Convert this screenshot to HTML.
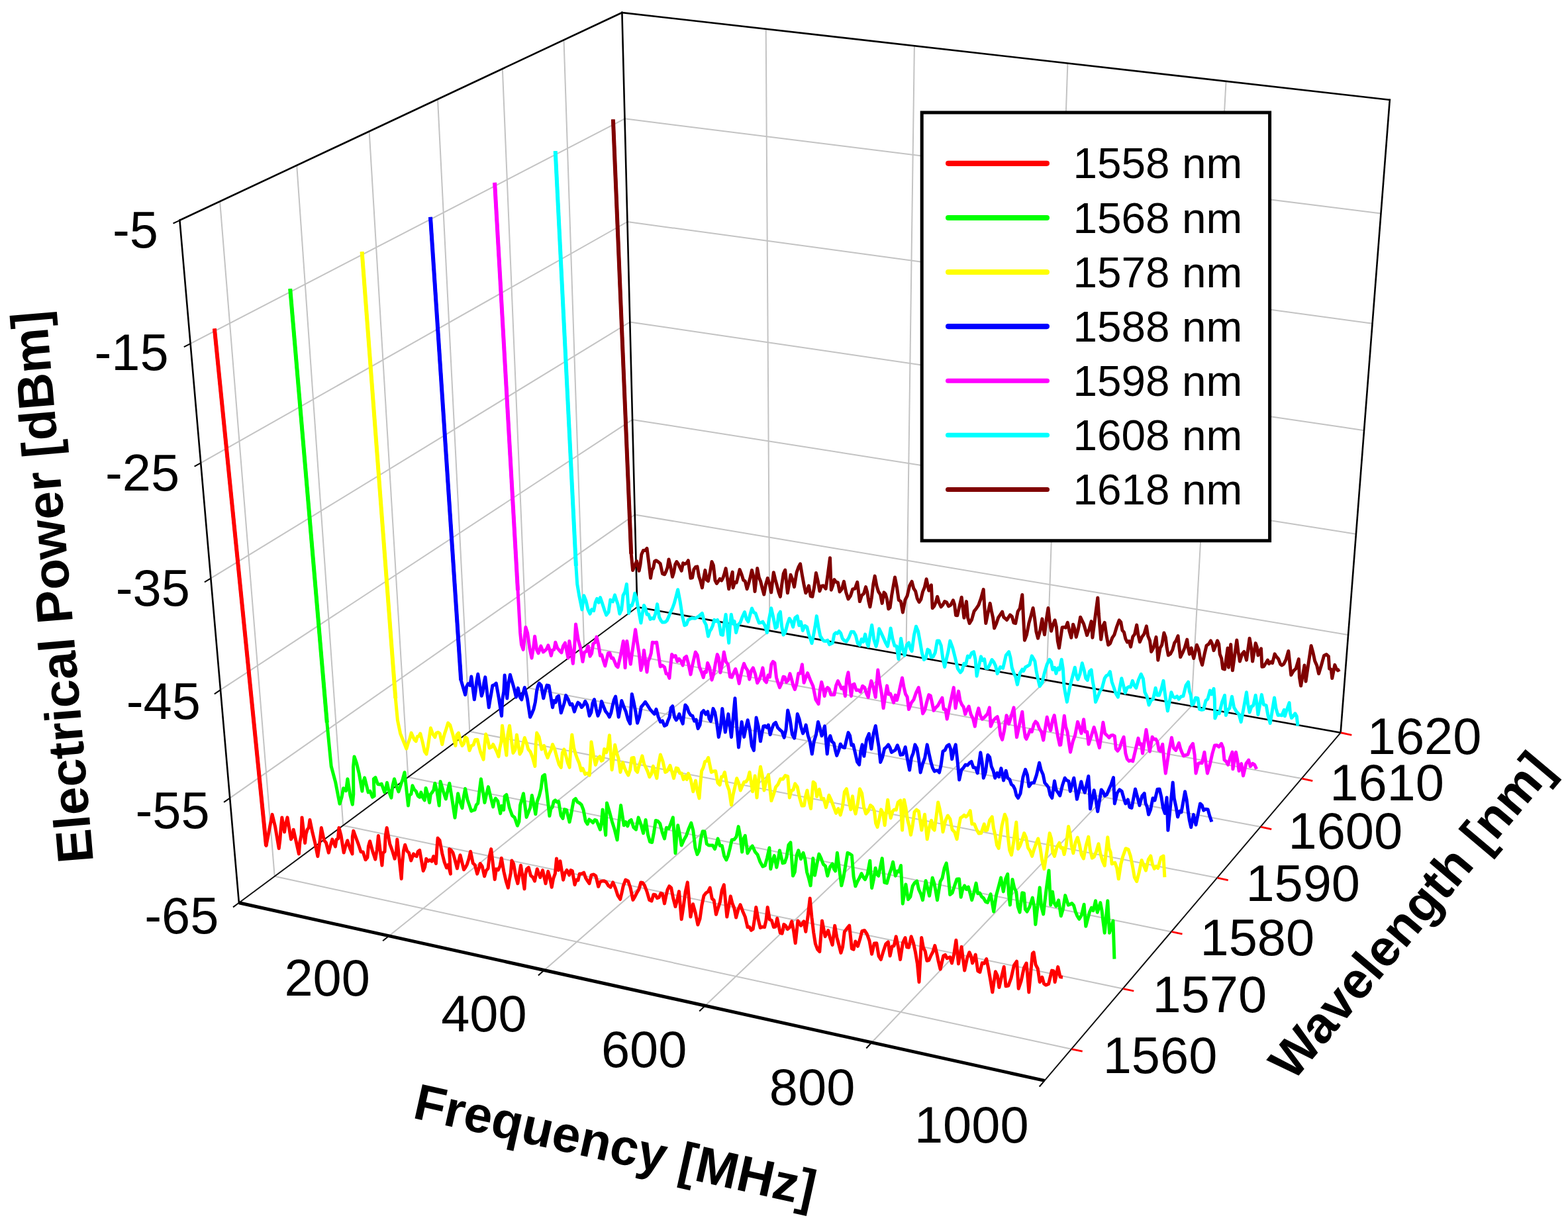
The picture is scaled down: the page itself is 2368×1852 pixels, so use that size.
<!DOCTYPE html>
<html lang="en"><head><meta charset="utf-8"><title>Electrical power spectra vs wavelength</title>
<style>
html,body{margin:0;padding:0;background:#fff}
body{width:2368px;height:1852px;overflow:hidden}
svg{display:block}
.g{stroke:#c3c3c3;stroke-width:2;fill:none}
.e{stroke:#000;stroke-width:2.6;fill:none;stroke-linecap:square}
.e2{stroke:#111;stroke-width:2;fill:none}
.ef{stroke:#000;stroke-width:5;fill:none;stroke-linecap:butt}
.tk{stroke:#000;stroke-width:2}
.tr{stroke:#ff0000;stroke-width:2.8}
.t{fill:none;stroke-width:5;stroke-linejoin:round;stroke-linecap:butt}
text{font-family:"Liberation Sans",sans-serif;fill:#000}
.tl{font-size:77.6px}
.lt{font-size:65.7px}
.al{font-size:76.8px;font-weight:bold}
</style></head><body>
<svg width="2368" height="1852" viewBox="0 0 2368 1852">
<rect width="2368" height="1852" fill="#fff"/>
<g id="grid">
<line class="g" x1="414.7" y1="1323.8" x2="332.1" y2="304.3"/>
<line class="g" x1="414.7" y1="1323.8" x2="1618.1" y2="1584.7"/>
<line class="g" x1="518.2" y1="1246.9" x2="448.2" y2="249.8"/>
<line class="g" x1="518.2" y1="1246.9" x2="1695.7" y2="1493.5"/>
<line class="g" x1="616.3" y1="1174.1" x2="557.6" y2="198.4"/>
<line class="g" x1="616.3" y1="1174.1" x2="1768.9" y2="1407.4"/>
<line class="g" x1="709.3" y1="1104.9" x2="661" y2="149.8"/>
<line class="g" x1="709.3" y1="1104.9" x2="1838.1" y2="1326.1"/>
<line class="g" x1="797.8" y1="1039.2" x2="758.8" y2="103.9"/>
<line class="g" x1="797.8" y1="1039.2" x2="1903.6" y2="1249.1"/>
<line class="g" x1="882.1" y1="976.6" x2="851.5" y2="60.4"/>
<line class="g" x1="882.1" y1="976.6" x2="1965.7" y2="1176.1"/>
<line class="g" x1="1162.4" y1="952.8" x2="1156.7" y2="43.8"/>
<line class="g" x1="587.5" y1="1413.8" x2="1162.4" y2="952.8"/>
<line class="g" x1="1368.4" y1="989.6" x2="1380.9" y2="69.3"/>
<line class="g" x1="822" y1="1465.6" x2="1368.4" y2="989.6"/>
<line class="g" x1="1580.6" y1="1027.5" x2="1612.4" y2="95.6"/>
<line class="g" x1="1064.9" y1="1519.2" x2="1580.6" y2="1027.5"/>
<line class="g" x1="1799.3" y1="1066.6" x2="1851.6" y2="122.8"/>
<line class="g" x1="1316.5" y1="1574.8" x2="1799.3" y2="1066.6"/>
<line class="g" x1="347.1" y1="1205.6" x2="958.8" y2="777.4"/>
<line class="g" x1="958.8" y1="777.4" x2="2036.1" y2="959"/>
<line class="g" x1="333" y1="1042.2" x2="955.1" y2="633.9"/>
<line class="g" x1="955.1" y1="633.9" x2="2047.9" y2="806.8"/>
<line class="g" x1="318.3" y1="873.6" x2="951.3" y2="486.5"/>
<line class="g" x1="951.3" y1="486.5" x2="2060.1" y2="650.2"/>
<line class="g" x1="303.2" y1="699.3" x2="947.5" y2="335"/>
<line class="g" x1="947.5" y1="335" x2="2072.6" y2="488.8"/>
<line class="g" x1="287.6" y1="519.1" x2="943.5" y2="179.3"/>
<line class="g" x1="943.5" y1="179.3" x2="2085.5" y2="322.4"/>
</g>
<g id="edges">
<line class="e" x1="271.4" y1="332.8" x2="939.4" y2="19.1"/>
<line class="e" x1="939.4" y1="19.1" x2="2098.8" y2="150.9"/>
<line class="e" x1="271.4" y1="332.8" x2="360.9" y2="1363.8"/>
<line class="e" x1="939.4" y1="19.1" x2="962.3" y2="917"/>
<line class="e" x1="2098.8" y1="150.9" x2="2024.6" y2="1106.8"/>
<line class="e2" x1="360.9" y1="1363.8" x2="962.3" y2="917"/>
<line class="e" x1="962.3" y1="917" x2="2024.6" y2="1106.8"/>
<line class="e2" x1="1577.5" y1="1632.4" x2="2024.6" y2="1106.8"/>
<line class="ef" x1="360.9" y1="1363.8" x2="1577.5" y2="1632.4"/>
</g>
<g id="ticks">
<line class="tk" x1="360.9" y1="1363.8" x2="352" y2="1370.4"/>
<line class="tk" x1="347.1" y1="1205.6" x2="338.1" y2="1211.9"/>
<line class="tk" x1="333" y1="1042.2" x2="323.8" y2="1048.3"/>
<line class="tk" x1="318.3" y1="873.6" x2="308.9" y2="879.3"/>
<line class="tk" x1="303.2" y1="699.3" x2="293.6" y2="704.7"/>
<line class="tk" x1="287.6" y1="519.1" x2="277.8" y2="524.2"/>
<line class="tk" x1="271.4" y1="332.8" x2="261.5" y2="337.5"/>
<line class="tk" x1="587.5" y1="1413.8" x2="578.1" y2="1421.3"/>
<line class="tk" x1="822" y1="1465.6" x2="812.9" y2="1473.5"/>
<line class="tk" x1="1064.9" y1="1519.2" x2="1056.2" y2="1527.5"/>
<line class="tk" x1="1316.5" y1="1574.8" x2="1308.3" y2="1583.5"/>
<line class="tk" x1="1577.5" y1="1632.4" x2="1569.7" y2="1641.5"/>
<line class="tr" x1="1618.6" y1="1584.8" x2="1634.7" y2="1588.2"/>
<line class="tr" x1="1696.2" y1="1493.6" x2="1712.3" y2="1497"/>
<line class="tr" x1="1769.4" y1="1407.5" x2="1785.5" y2="1410.9"/>
<line class="tr" x1="1838.6" y1="1326.2" x2="1854.7" y2="1329.6"/>
<line class="tr" x1="1904.1" y1="1249.2" x2="1920.2" y2="1252.6"/>
<line class="tr" x1="1966.2" y1="1176.2" x2="1982.3" y2="1179.6"/>
<line class="tr" x1="2025.1" y1="1106.9" x2="2041.3" y2="1110.3"/>
</g>
<g id="traces">
<polyline class="t" stroke="#ff0000" points="323.9,496.4 402,1277.6 411.1,1230.4 415.6,1248.6 421.2,1281.6 422.9,1268.2 424.2,1250.4 425.8,1234.9 429.5,1256.9 431.6,1244.1 434,1234.9 439.5,1267.9 441.6,1264.1 443.2,1253.3 447.3,1271.6 451.4,1289.9 452.9,1271.7 455.1,1261.1 456,1234.9 460.6,1273.4 462.1,1260.2 464,1253.4 466.3,1250.1 467.9,1238.6 471.9,1257.7 475.7,1273.1 479.8,1293.6 481.7,1280.4 483.6,1266 485.3,1250.5 489.5,1269.5 492.5,1273.1 496.3,1288.1 499,1277.4 501.8,1267.9 506.4,1278.9 508.1,1268.2 510.5,1266.8 511.9,1250.5 515,1262 519.2,1288.1 521.9,1278.2 524.7,1269.7 528.5,1281.5 532,1289.9 532.3,1263.8 533.8,1255.1 537.5,1265.4 541.2,1275.2 545,1286.7 548.2,1287.1 552,1298.8 554.9,1295.4 556.4,1278.4 558.6,1270.7 562.8,1286.3 566.8,1298.1 569.3,1283.6 571.4,1262.4 576.9,1307.3 578.4,1288.4 581,1286.4 582.2,1262.4 584.2,1250.5 588.7,1274.9 592.3,1284.6 596.1,1297.2 598.3,1288 599.8,1267.9 606.2,1327.4 607.6,1303.9 609.4,1285.4 611.7,1276.2 614.8,1285.6 617.6,1288.3 620.8,1300 624.5,1289.9 626.8,1292.5 629.1,1293.6 631.2,1286.4 633.7,1284.4 639.2,1315.5 641.6,1309.8 643.7,1297.2 646.6,1300.8 649.2,1299 652.2,1301.1 654.7,1293.6 658.4,1304.5 659.7,1283.6 661.1,1266.1 664,1269.4 667.8,1289.3 671.2,1302.7 674.4,1310.9 676.9,1306.4 680.4,1320.1 678.5,1282.6 681.2,1284.2 684,1288.1 687.2,1299.5 690.4,1311.9 692.7,1300.7 695,1291.7 700.5,1313.7 702.8,1310.6 705.1,1306.4 707.9,1297.7 710.6,1286.2 714.3,1304 717.2,1306.6 720.7,1320.1 723,1312.8 725.2,1304.5 728.2,1308.8 731.6,1323.8 734.2,1315.2 737.1,1311.8 739.2,1293.4 741.7,1282.6 747.2,1328.4 749.4,1312.7 752.3,1314.1 755,1308.4 757.3,1296.3 760.9,1316.7 764.2,1331 767.4,1341.2 769.3,1328.8 771.3,1319.1 772.9,1300 775.6,1304.8 779,1324.4 781.9,1334.7 784.2,1320.5 786.5,1307.2 792,1342.9 793.5,1321.3 795.6,1312.7 798.3,1310.5 801.6,1322.8 804.5,1324.9 807.5,1331 811.2,1312.7 815.8,1325.5 819.5,1314.5 824,1334.7 827.7,1316.4 830.3,1325 833.2,1340.2 835.7,1326.8 838.4,1319.6 840.5,1297.1 843.3,1314.5 846,1300.8 850.6,1329.2 853.2,1318.9 856.1,1314.5 859.7,1321.9 861.9,1314.6 864.3,1315.5 868,1336.5 870.4,1329.1 873,1329.7 875.3,1320 878.5,1320 881.7,1318.2 884.6,1326.4 887.3,1330.6 890,1334.7 893,1321.9 896.4,1321 899.8,1323.1 903.7,1339.3 906.3,1332.1 909.2,1331 912.3,1330.8 915.5,1332.5 918.8,1337.9 922,1340.2 925.7,1332.9 929.4,1341.8 933.1,1353 936.7,1358.5 939,1348.7 941.2,1338.4 944.7,1329.1 948.6,1331 952.1,1341.3 955.9,1359.4 958.9,1354.4 961.9,1348.3 964.9,1343.5 967.8,1332.9 970.5,1333.4 973.3,1337.4 976.9,1346.6 980.6,1359.4 984,1361.1 987,1351.2 989.7,1351.7 992.5,1356.7 995.3,1355.6 998,1349.3 1000.6,1350.6 1003.5,1364.9 1005.8,1353.7 1008.1,1343.8 1010.8,1338.6 1013.6,1341.1 1016.8,1357.4 1020,1369.5 1022.8,1359.4 1025.5,1346.6 1029.2,1388.7 1032.2,1368.8 1035.2,1346.7 1038.3,1332.9 1042.9,1385.1 1046.6,1365.8 1050.2,1378.8 1053.9,1397 1057,1388 1060,1366.9 1063,1353 1066.1,1348.9 1069.2,1347.1 1072.2,1341.1 1075.3,1357.5 1078.2,1359.9 1081.4,1381.4 1084.3,1372 1087.3,1362.9 1090.2,1344.8 1093.3,1336.5 1097.8,1385.1 1100.6,1368.9 1103.3,1353.9 1106.1,1365 1108.8,1371.7 1111.6,1386 1114.8,1374.1 1118,1366.7 1121.6,1376.4 1125.3,1384.9 1129,1400.6 1131.7,1400.2 1134.5,1405.3 1137.2,1403.4 1139.5,1388.6 1141.8,1370.4 1145,1388.4 1148.2,1401.5 1151.4,1400.1 1154.6,1400.6 1156.9,1390.5 1159.2,1370.4 1162.3,1389 1165.3,1390.2 1168.4,1400.6 1171.1,1400.1 1173.7,1387.2 1178.3,1409.2 1181.1,1410.2 1183.8,1396.4 1186.5,1398.3 1189.3,1403.7 1192.5,1401 1195.7,1391.8 1198.5,1406 1201.2,1424.8 1204.9,1390.9 1209.5,1398.2 1214,1391.8 1216.8,1407.4 1220,1384.7 1223.2,1357 1225.9,1385.2 1228.7,1408.6 1231.4,1425.7 1234.6,1434 1237.8,1437.6 1241.5,1390.9 1246.1,1414.7 1250.7,1405.5 1253.9,1417.8 1257.1,1427.5 1260.7,1398.2 1263.8,1415.8 1266.8,1427 1269.9,1439.4 1272.6,1430.5 1275.4,1407.4 1279,1402.7 1282.7,1398.2 1286.4,1433 1289.1,1434.2 1291.9,1422 1295.5,1429.3 1298.7,1418.8 1301.9,1406.4 1305.6,1405.5 1309.3,1411 1313,1421.1 1316.6,1441.2 1320.3,1425 1323.9,1424.8 1327.1,1444.4 1330.3,1449.5 1334,1437.1 1337.7,1426.2 1341.3,1422.9 1344.1,1444 1347.2,1429.7 1350.1,1428.8 1353.2,1414.7 1356.5,1430.2 1359.6,1449.5 1363.4,1424.3 1367,1416.5 1369.6,1430.8 1372.5,1431.2 1376.1,1414.7 1379.4,1424.4 1382.5,1438.5 1385.4,1455.8 1388,1483.4 1391.7,1416.5 1394.4,1431.4 1397.2,1437 1399.9,1451.3 1402.8,1450.6 1405.8,1443.7 1408.8,1438 1411.8,1428.4 1414.6,1439.5 1417.3,1452.7 1420.1,1464.1 1424.7,1444 1427.5,1442.4 1430.1,1447.7 1434.7,1445.8 1437.5,1455 1440.6,1442 1443.9,1420.2 1447.5,1455.9 1452.1,1430.3 1454.4,1448.8 1456.7,1466 1460.5,1447.7 1464,1438.5 1466.4,1444.1 1468.6,1455 1473.2,1442.2 1476.8,1466.9 1479.9,1468.5 1483.3,1454.6 1486.4,1455.4 1489.7,1448.6 1492.8,1463.6 1495.8,1480.8 1498.8,1498.9 1503.4,1467.8 1506.3,1474 1508.9,1491.6 1512.6,1475.5 1516.2,1460.5 1519,1489.8 1522.8,1489.1 1527,1477.5 1531.4,1458.2 1535.5,1452.2 1538.2,1493.4 1542.1,1481.9 1546.3,1462.5 1550.1,1455 1552,1475.7 1553.8,1498.9 1559.3,1440.3 1561.1,1438.6 1564,1457.2 1567.3,1463.5 1570.2,1483.5 1573.9,1476.2 1576.5,1485.9 1579.4,1488.1 1583.6,1486.4 1588.5,1466.1 1591.1,1466.6 1593.1,1483.5 1597.7,1460.6 1601.1,1475.8 1605,1476.2"/>
<polyline class="t" stroke="#ff0000" style="stroke-width:6px" points="323.9,496.4 402,1277.6"/>
<polyline class="t" stroke="#00ff00" points="438.2,436.3 493.8,1091.6 500.2,1157.5 506.6,1181.3 513,1214.3 516,1204.5 518.6,1190.8 522.5,1194.6 524.9,1176.7 529,1202 532.3,1215.2 533.8,1199.7 533.5,1158.5 535,1142.9 538.5,1152.8 542.4,1169.2 546.9,1195.1 548.5,1181.5 550.6,1174.9 556.1,1196.9 558.9,1195.1 562.4,1204.2 565.2,1202.4 564.3,1176.7 567,1174.5 570.5,1184.5 573.4,1185.1 576.2,1184.1 580.8,1196.9 582.7,1191.2 584.5,1182.2 587.9,1197.1 590.9,1205.1 592.9,1187.2 595.5,1176.7 598.7,1187.4 601.9,1196 603.7,1190.8 605.5,1185 608.3,1176.7 611,1166.7 616.5,1217 618.3,1201.1 620.9,1199.6 622.9,1186.8 625.7,1192.8 628.3,1195.3 631.2,1202.4 633.7,1204.2 635.8,1196.9 638.6,1204.9 641.2,1208.8 643.1,1190.5 645.7,1199.1 648.6,1212.5 650.3,1200.1 652.6,1197.1 654.9,1193.4 656.8,1183.2 659.7,1193.8 663.2,1217 665.1,1180.4 669.2,1194.7 673.3,1207 676,1194.9 678.8,1183.2 682.9,1208.5 687,1235.3 689.3,1217.3 691.6,1198.7 694.9,1212.1 698,1220.7 700.2,1204 702.6,1191.4 705.9,1207.8 708.8,1216.2 711.8,1225.3 714.4,1224.1 717,1223.4 719.3,1216 721.8,1213.4 724.1,1194.5 726.4,1176.7 731.9,1212.5 734.6,1200.2 737.4,1188.6 741.1,1204.5 744.7,1218.9 746.4,1210 748.4,1206 751.7,1210 755.7,1228.9 757.8,1217.4 760.7,1223.4 762.3,1202.6 764.9,1200.5 769.4,1220.5 773.5,1231.8 777.2,1235 781.4,1247.3 783.9,1241.1 785.6,1216.2 788.1,1207.8 790.5,1198.7 795.1,1234.4 798,1227.1 800.9,1219.7 803.3,1201.5 806,1214.2 808.8,1229.9 811.3,1210.7 814.3,1202.4 817,1191.3 819.5,1172.7 822.6,1170.3 826.1,1199.2 829.9,1232.6 831.9,1221.8 834.2,1219.3 836.3,1210.6 838.7,1208.9 841.2,1211.6 843.6,1210.6 847.1,1231.8 850,1236.3 852.5,1222.6 855.5,1223.4 860.1,1241.8 862.3,1231.4 864.4,1219.3 866.5,1208.8 869.3,1206.5 872.3,1211.7 875.1,1213 878.1,1215.6 881.1,1223.5 884.3,1240.3 887.2,1244.9 889.8,1237.9 892.7,1240.1 895.5,1242.8 898.2,1238.5 900.8,1239.3 903.7,1246.7 906.4,1253.2 908.4,1242.3 910.1,1223 914.7,1261.4 916.5,1212.9 920.4,1226.2 924.3,1240.9 928.2,1253.3 932.1,1268.8 934.8,1241.1 937.6,1216.6 942.2,1246.8 944.8,1241.5 947.8,1248 950.4,1240.6 953.2,1238.5 956.9,1250 960.5,1253.2 964.1,1234.9 967.7,1244.6 971.5,1258.7 975.1,1238.5 978.5,1261 981.5,1271.5 984.7,1272.5 987.5,1257.9 990.3,1239.4 993.4,1240.4 996.7,1244.1 1000.2,1257.7 1003.5,1266.9 1006.5,1250.2 1009.9,1251.8 1013.1,1243.7 1016.3,1234.9 1020,1288.9 1021.7,1264.1 1023.7,1246.8 1026.4,1260.5 1029.2,1277 1032.8,1268.9 1036.5,1262.2 1040.1,1251.9 1043.8,1243.1 1046.8,1254.3 1050,1280.8 1053,1290.7 1055.8,1285 1058.3,1267.4 1061.1,1255.8 1064,1255.9 1067.3,1274.7 1070.4,1277 1073.4,1277 1076.4,1277 1079.5,1282.5 1081.8,1275.7 1084.1,1266.9 1087.3,1277.5 1090.4,1277.4 1093.8,1293.4 1096.9,1299 1099.7,1292.2 1102.4,1281.4 1105.2,1268.8 1108.6,1268.3 1112,1264.2 1115.2,1248.6 1117.9,1262.7 1120.7,1287.1 1122.9,1267.1 1125.3,1262.3 1129,1288.9 1132.6,1282.4 1136.3,1277.9 1140.2,1286.6 1144.1,1291.2 1148,1302.1 1151.9,1309 1155.3,1307.5 1158.6,1295.6 1161.9,1280.7 1163.8,1312.7 1166.5,1300.7 1169.3,1292.6 1172.8,1310.3 1175.1,1299.2 1177.4,1284.7 1182,1303.9 1185,1303.1 1187.9,1294.8 1190.9,1276.3 1193.9,1272.7 1197.5,1323.1 1200.3,1317.2 1203,1292.4 1205.8,1284.7 1209.5,1297.5 1213.1,1288.3 1215.9,1298.5 1218.6,1317.6 1221.4,1326.9 1224.1,1337.8 1227.8,1296.6 1230.5,1322.2 1233.7,1305.5 1236.9,1290.1 1240.1,1296.8 1243.3,1305.5 1246.6,1308.4 1249.7,1323.1 1253.4,1309.8 1257.1,1304.8 1259.4,1312.6 1261.6,1315.8 1264.4,1288.3 1267.6,1313.9 1270.8,1337.8 1273.8,1325.5 1276.9,1307.2 1280,1288.3 1283.2,1289.8 1286.4,1292 1289.1,1324.3 1291.9,1338.7 1294.9,1331.8 1298,1326.1 1301,1319.5 1303.8,1325.2 1306.5,1328.6 1310.1,1320.4 1313.8,1300.2 1316.6,1341.4 1319.3,1329 1322.1,1311.2 1324.3,1320.6 1326.7,1323.1 1329.4,1310.1 1332.2,1296.6 1335.8,1333.2 1339.4,1334.2 1343.2,1320.4 1345.9,1312.7 1348.6,1302.1 1352.3,1323.1 1355.1,1315.8 1357.7,1316.8 1360.5,1307.5 1363.3,1365.2 1367.9,1335.9 1371.5,1358.8 1374.8,1354.6 1378.3,1338.4 1381.6,1333.2 1384.7,1330.9 1387.6,1343.7 1390.6,1350.1 1393.5,1359.7 1398.1,1330.4 1400.8,1341.7 1403.6,1353.3 1408.2,1325.9 1410.7,1333.7 1413.1,1345.8 1415.5,1359.7 1420.1,1331.4 1423,1326.5 1426.2,1311.3 1429.2,1303.9 1432.1,1323.5 1434.7,1351.5 1438.1,1348.8 1441.6,1337.9 1445.1,1327.9 1448.5,1327.7 1451.2,1355.2 1454.1,1342 1456.7,1337.8 1459.5,1343.4 1462.4,1339.8 1465.1,1349.5 1467.7,1359.7 1470.9,1348.1 1474.1,1334.1 1476.6,1349.7 1479.6,1349 1482.3,1354.2 1485.4,1356.7 1488.4,1362.1 1491.5,1363.4 1496.1,1350.6 1498.4,1363.8 1500.7,1377.1 1504.5,1352.6 1508.1,1339.3 1511.6,1325.9 1515.3,1346.9 1518.7,1327.5 1521.7,1320.4 1523.4,1350.1 1525.4,1367.1 1529,1328.6 1531.8,1341 1534.7,1347.3 1537.2,1369.5 1540,1378.1 1543.7,1348.8 1546.4,1349.3 1548.4,1373.5 1551,1377.1 1555,1369.6 1559.3,1356.1 1561.8,1369.4 1563.8,1396.5 1570.2,1340.7 1572.7,1369.9 1575.7,1381 1580,1344.4 1584,1315 1586.7,1367.2 1589.5,1347.1 1592,1364 1594.9,1369 1598.6,1359.9 1602.3,1383.7 1605.3,1373.6 1608.7,1352.6 1611,1359.8 1613.3,1367.2 1616,1366.2 1618.8,1364.5 1621.6,1367.9 1624.2,1377.2 1626.9,1383.8 1629.7,1388.3 1633.2,1382.8 1637.1,1366.3 1639.8,1399.3 1645.3,1378.2 1648.4,1371.2 1651,1375.7 1654.5,1360.8 1657.2,1378.2 1661.8,1363.6 1664.1,1376 1666.1,1393.2 1668.2,1409.3 1672.8,1360.8 1675.5,1409.3 1681,1391 1682.9,1448.7"/>
<polyline class="t" stroke="#00ff00" style="stroke-width:6px" points="438.2,436.3 493.8,1091.6"/>
<polyline class="t" stroke="#ffff00" points="546.6,380.3 597.3,1054.9 600.4,1087.9 604.6,1108.1 613.8,1131 616.2,1123 618.7,1116.3 621.1,1107.1 625.7,1117.2 628.2,1119.7 630.3,1112.7 632.6,1112 634.8,1108.1 638,1120.5 641.3,1135.3 644,1139.2 646.2,1128.2 648.3,1114 650.4,1099.8 653.8,1109.4 656.8,1113.6 659,1107.2 661.4,1106.2 664.2,1108 667.8,1124.5 669.6,1115 671.5,1108.1 674,1100.8 676.6,1092.1 679.7,1095.2 683.7,1109 687.9,1126.4 689.9,1110.2 692.5,1107.1 695.5,1120.6 698,1126.4 700.5,1123.3 702.6,1113.5 705.3,1115.4 709,1133.7 711.8,1126.7 714.9,1125.3 717.7,1117.4 720.9,1117.2 725.5,1135.5 730.1,1147.4 731.8,1126.6 733.7,1109 736.4,1117.3 739.2,1130 742,1128.8 744.7,1124.5 747.4,1129.8 750.2,1135.4 753,1142.9 754.9,1129.5 757,1120.2 758.5,1096.2 761.7,1119 764.9,1141 766.8,1110.2 769.5,1096.2 774.9,1137.4 778.1,1132.1 780.4,1109.9 785,1139.2 787.6,1134.9 789.9,1123.7 792.3,1114.5 795,1122 797.8,1131.9 801,1135.6 804.4,1144.5 807.9,1157.5 809.1,1126.8 810.7,1107.1 814.1,1113.5 818,1131.9 821.6,1126.4 824.5,1138.4 827.1,1144.7 829.6,1138.2 832.1,1133.4 834.5,1124.5 837.6,1131.4 840.9,1143.6 844.2,1154.6 847.3,1159.3 849.3,1137.4 851.9,1131.9 854.6,1141.7 857.5,1152.9 860.1,1159.3 861.8,1131.1 863.8,1109.9 866.7,1129.8 869.3,1139.2 872.1,1146.8 874.8,1153.1 877.7,1164 880.1,1161 883.7,1169.5 886.9,1168 890.2,1171.1 891.7,1148.8 893,1120.7 896.3,1141 899.4,1155.5 902.5,1145.8 905.8,1142.7 908.2,1149.4 910.4,1148.2 912.6,1131.5 915.6,1136.9 918.2,1128.6 920.4,1110.7 924.1,1162.9 926.4,1145.1 928.7,1125.3 931.4,1137.4 934,1145.6 936.9,1166.5 940.6,1151.9 943.4,1160.4 946.1,1166.3 948.8,1171.1 951.6,1163 954.1,1144.9 957.1,1144.5 960,1163.4 962.6,1166.5 965,1156.8 967.4,1150.2 969.9,1141.8 972.7,1154 975.4,1159.5 978.1,1165.4 980.9,1173.8 983.7,1169.3 986.4,1157.4 989.1,1166.5 991.9,1175.7 994.5,1155 997.4,1140 1001,1150 1004.7,1166.5 1007.2,1165.2 1009.6,1161 1012,1156.4 1014.8,1165.9 1017.5,1175.7 1021.2,1160.1 1023.8,1160.8 1026.7,1168.1 1029.3,1167.9 1032.2,1177.5 1034.6,1172.3 1037.2,1177.5 1039.5,1168.4 1043.1,1177.6 1046.8,1195.8 1050.5,1179.3 1053.3,1195.5 1056,1205.9 1057.8,1183 1059.6,1164.7 1062.1,1159.7 1064.6,1150.6 1067.2,1149.4 1069.7,1144.5 1074.3,1166.5 1077.5,1165 1080.7,1164.7 1084,1182.5 1087.1,1185.8 1089.5,1173.4 1092,1172.8 1094.4,1166.5 1097.8,1184.8 1101.1,1193.9 1104.5,1216 1107.2,1200.1 1110,1188.1 1112.7,1175.7 1115.5,1182.7 1118.2,1194 1121,1187.3 1123.7,1181.2 1126.5,1181 1129.3,1177 1132,1166.5 1136.6,1195.8 1140.2,1172 1143,1205 1145.7,1177.6 1148.5,1158.3 1151.2,1171.5 1154,1194 1157.1,1179.7 1160.4,1170.2 1164.9,1209.6 1168.3,1200 1171.6,1188.8 1175,1184.8 1178.6,1176.8 1182.3,1177 1186,1171.5 1189.7,1172.9 1192.4,1205 1195.1,1194.1 1197.9,1193.3 1200.7,1183.9 1204.1,1188.6 1207.5,1204.9 1211,1217.3 1214.4,1216.9 1216.7,1202.5 1219,1194 1221.7,1209.5 1224.5,1221.5 1228.1,1181.2 1230.9,1183.6 1233.6,1203.2 1237.3,1192.2 1240.6,1206.8 1244,1206.3 1247.4,1219.6 1249.6,1211.5 1251.9,1201.3 1255.6,1209.3 1259.3,1219.6 1262.6,1228.3 1265.9,1221.6 1269.2,1231.1 1272.3,1219.2 1275.4,1196.2 1278.4,1191.7 1281.6,1207.7 1284.8,1222.9 1287.5,1202.7 1289.8,1221.4 1292.1,1229.3 1295.3,1214.1 1298.5,1191.7 1301.6,1198.4 1304.6,1219.3 1307.7,1229.3 1311,1225.6 1314.5,1216.4 1317.8,1219.2 1320.3,1224.5 1322.6,1243.8 1325.1,1249.4 1327.8,1237.4 1330.6,1222.9 1333.4,1227.9 1336.1,1246.7 1340.7,1208.2 1342.9,1224.4 1345.2,1235.7 1348,1225.5 1350.7,1222.9 1353.4,1223.4 1356.2,1211.9 1359.9,1209.1 1362.6,1254 1365.4,1208.2 1367.9,1220.2 1370.4,1237.5 1373,1247.5 1375.5,1261.3 1378.1,1247.5 1381,1226.5 1384.2,1223.2 1387.4,1225.6 1389.7,1240.1 1391.9,1254 1396.5,1230.2 1400.2,1267.7 1403.5,1249.5 1406.6,1239.3 1408.8,1251.5 1411.2,1254 1413.9,1233.8 1416.7,1211.9 1419.2,1222.1 1421.7,1236.3 1424,1256.7 1427.7,1239.9 1431.3,1232 1434.8,1237.1 1438.1,1253.2 1441.7,1256.9 1445.1,1267.7 1447.9,1248.9 1450.5,1235.7 1453.3,1233.9 1456.1,1231.3 1458.8,1233.8 1461.9,1231.2 1465.2,1224.7 1467.9,1244.8 1471.5,1244.7 1474.8,1252.9 1478.2,1258.9 1481.7,1258.6 1486.3,1244.8 1488.4,1254.7 1490.8,1254 1494.6,1239 1498.2,1233.8 1500.5,1251.1 1503.1,1262.3 1505.5,1276.6 1508.2,1281.5 1513.1,1247.1 1517.4,1230.2 1520.2,1237.1 1522.3,1264.5 1524.7,1284.4 1527.5,1291.5 1531,1270.4 1534.8,1242.1 1537.5,1282.4 1540.5,1277.4 1543.6,1268.7 1546.7,1258.6 1549.7,1265.6 1552.5,1280.6 1555.6,1285.3 1558.6,1293.4 1561.7,1282.8 1564.8,1274.1 1567.8,1266.8 1570.9,1280.6 1573.8,1300 1576.9,1312.6 1581,1286.5 1585.2,1258.6 1587.7,1267 1589.8,1287.7 1592.5,1293.4 1596.3,1279.1 1599.8,1273.2 1602.2,1281.1 1604.9,1280.6 1607.1,1290.6 1610,1277.7 1613.6,1248.5 1616.1,1260 1618.3,1277.9 1620.9,1288.8 1624.3,1272.1 1627.3,1265 1630.3,1276.2 1633.2,1291 1636.4,1297 1640.3,1276.8 1643.8,1264.1 1646.4,1284 1649.3,1296.1 1652.3,1294.3 1655.6,1286.5 1659,1274.7 1661.9,1289.9 1665,1300.4 1668.2,1307.7 1672.8,1264.7 1674.8,1281.4 1677.2,1287.7 1679.2,1304.9 1683.8,1303.1 1686.7,1311.2 1689.3,1327.8 1692.7,1305.5 1695.7,1294 1700.1,1281.7 1703.9,1283 1707.2,1292.8 1710.3,1307.9 1713.3,1325.2 1716.7,1331.5 1720.3,1317.6 1724.1,1299.5 1727.3,1307.3 1730.5,1315 1734.4,1298.1 1737.8,1293 1740.4,1305.6 1743.3,1312.3 1746.2,1308.7 1748.8,1311.4 1753.3,1295.1 1757,1293 1758.9,1325.1"/>
<polyline class="t" stroke="#ffff00" style="stroke-width:6px" points="546.6,380.3 597.3,1054.9"/>
<polyline class="t" stroke="#0000ff" points="650,327.9 696.2,1027.5 702.6,1049.5 704.6,1037.1 707,1032.8 709.8,1035.3 711.8,1022 716.3,1056.8 718.2,1044 719.9,1028.6 721.8,1018.3 727.3,1051.3 729.3,1044.8 730.9,1031.3 732.8,1022.9 738.3,1068.7 740.1,1057.3 742,1046.7 743.8,1035.7 746.6,1034.6 749.3,1032.1 753.4,1055 757.5,1081.5 758.8,1056.1 760.8,1044.7 762.1,1020.1 765.8,1054.9 767.9,1032.8 770.4,1019.2 773.4,1029.6 776.4,1040 779.5,1053.1 782.3,1039.4 785.2,1052.8 787.8,1056.8 790,1047.1 792.3,1038.5 796.2,1054.7 800.6,1083.3 803.3,1077.8 805.9,1071.4 808.4,1060.5 810.7,1043 812.4,1036.4 814.3,1032.1 817.2,1035.2 820.7,1054.9 823.3,1043.8 825.9,1035.1 829,1035.7 831.7,1051.8 834.5,1068.7 836.5,1058.5 839.1,1061.1 841.2,1053.1 843.6,1051.3 847.3,1076.9 849.8,1069.2 852.3,1061.5 854.6,1050.4 857.8,1056 861.1,1064.7 864,1063.4 867.4,1075.1 870.1,1067.3 872.8,1061.2 875.5,1063.2 878.3,1068.5 881.1,1065.4 883.8,1059.4 886.8,1065.1 890.2,1081.4 892.8,1076.2 895,1062.1 897.5,1056.6 900.3,1070.5 903,1081.4 905.9,1074.3 908.5,1059.4 911.6,1067.4 914.6,1074.7 917.5,1078.1 920.4,1083.2 922.8,1076.9 925,1066.3 927.2,1057.5 929.6,1052.1 934.2,1083.2 936.5,1071.5 938.8,1058.5 942,1067.3 945.1,1074.7 948.4,1086.9 951.6,1093.3 954.3,1048.4 957,1060.1 959.7,1074.2 962.6,1092.3 965.5,1083.5 968.3,1068 971.4,1064.4 974.5,1060.3 977.9,1065.4 981.4,1071 984.8,1075 988.2,1078.6 991,1071.3 994.2,1083 997.4,1090.5 1000.3,1088.8 1003.5,1096.5 1006.5,1095.1 1008.8,1088.4 1011.1,1083.2 1013.3,1069.4 1015.7,1066.7 1018.6,1083.3 1021.2,1087.8 1023.5,1084.7 1025.8,1078.6 1028.5,1086.5 1031.2,1093.3 1033,1077.7 1034.9,1064.9 1037.6,1068.1 1040.4,1076.2 1043.2,1080.4 1045.8,1081.3 1048.6,1089.2 1051.3,1087.2 1054.1,1100.6 1057,1095.1 1059.6,1076.8 1062.6,1073.5 1065.8,1079.1 1068.8,1074.9 1071.1,1085.7 1073.4,1089.6 1077,1070.4 1079.7,1076.4 1082.4,1091.7 1085.3,1113.4 1088.1,1099.9 1090.8,1070.4 1095.3,1106.1 1097.6,1093.3 1099.9,1078.6 1104.5,1113.4 1107.2,1084.5 1110,1054.8 1112.9,1100.4 1115.5,1129 1117.8,1110 1120.1,1090.5 1123.7,1113.4 1126.5,1098.9 1129.2,1087.8 1132.3,1102.1 1135.4,1126.7 1138.4,1133.6 1142.1,1084.1 1145.2,1097.2 1148.5,1119.8 1150.7,1107.3 1153,1096.9 1155.5,1096.6 1157.9,1098.9 1160.4,1095.1 1163.1,1109.7 1165.8,1100.6 1168.6,1093.6 1171.4,1091.4 1174.6,1099.2 1177.8,1102.5 1181,1105.1 1184.2,1114.3 1187,1102.2 1189.7,1073.1 1193,1086.7 1196.4,1109.4 1199.7,1115.2 1202,1100.9 1204.3,1078.6 1207.1,1086.4 1209.8,1098.8 1212.6,1107.9 1214.9,1103.2 1217.1,1095.1 1220.2,1111.1 1223.3,1120.8 1226.3,1139 1229.3,1119.9 1232.4,1110.1 1235.5,1090.5 1238.2,1099.8 1241,1111.6 1243.2,1106.3 1245.5,1096.9 1249.2,1139 1251.5,1116.9 1253.8,1111.6 1256.5,1120.3 1259.3,1122.6 1261.5,1133.3 1263.7,1141.4 1266.5,1134.2 1269.2,1124 1272.4,1128.6 1275.6,1129.5 1278.4,1117.4 1281.1,1106.6 1283.6,1111.5 1286,1125.8 1288.5,1124.9 1291.5,1137.4 1294.5,1150.7 1297.6,1155.1 1299.9,1134.7 1302.2,1124.9 1304.9,1142.3 1308.7,1116.9 1312.3,1108.4 1315.9,1131.3 1319.2,1107.9 1322.3,1096.5 1324.8,1113.4 1327.3,1128.7 1329.7,1151.4 1332.6,1144.1 1335.7,1131 1338.6,1128.6 1341.6,1124.9 1344,1129.2 1346.4,1136.5 1348.9,1134.9 1352.1,1133.1 1355.3,1125.8 1357.6,1131.8 1359.9,1140.4 1363.5,1139.8 1367.2,1128.5 1370.4,1146.9 1373.6,1163.3 1376.4,1144.7 1379.1,1137.6 1381.9,1124.9 1384.8,1130.4 1387.5,1146.7 1390.1,1167 1393.4,1154.2 1396.7,1144.9 1400.2,1124.9 1402.9,1137.9 1405.7,1150.5 1408.4,1159.9 1411.2,1165.2 1413.6,1164.1 1416.1,1163.9 1418.5,1167 1421.1,1155.9 1424,1134.9 1427,1133.3 1430.1,1126.8 1433.2,1124.9 1435.5,1130.9 1437.7,1146.8 1440.5,1133.6 1443.2,1124.9 1446,1149.7 1448.7,1178 1452,1163 1455.1,1159.7 1458.1,1155.2 1461.1,1156.1 1464.1,1152.6 1467,1150.5 1470,1159.4 1473.2,1159.7 1476.2,1167.9 1480.8,1136.8 1483.2,1151.9 1485.3,1175.2 1488.3,1166.4 1491.8,1140.4 1494.6,1143.8 1497.3,1158.1 1500.1,1164.5 1502.7,1175.2 1505.9,1167.5 1508.6,1173.5 1511.9,1160.6 1515.6,1178.9 1519.2,1164.2 1521.8,1175.2 1524.7,1177.2 1527.4,1184.9 1530.2,1187.1 1532.7,1192.1 1535,1201.6 1537.5,1205.5 1541,1198.6 1544.9,1174.1 1548.5,1162.4 1551.4,1170.4 1554,1188.1 1557.8,1182.8 1561.4,1182.6 1565.4,1170.6 1569.6,1152.3 1572.3,1163.6 1575.2,1170.1 1577.8,1182.6 1580.7,1185.7 1583.5,1189.6 1586,1201 1588.8,1205.5 1592.5,1179.8 1595,1193.4 1597.9,1197.4 1600.7,1201.8 1604.5,1186.2 1608.1,1175.2 1610.9,1178.7 1613.9,1180 1616.3,1195.4 1619.1,1184.8 1621.8,1175.2 1624.1,1190.2 1626.4,1207.3 1629.5,1194.8 1632.8,1180.7 1635.5,1190.8 1638.3,1197.2 1643.8,1172.5 1645.3,1193.8 1646.5,1221.9 1652.2,1193.8 1655,1208.3 1657.7,1225.9 1663.2,1192.9 1665.9,1196.3 1668.5,1202.2 1671.4,1200.3 1674.8,1192.3 1678.1,1184.9 1681.5,1174.6 1683.3,1214 1687.2,1197.9 1690.7,1192.9 1694.1,1195.2 1697.1,1205.8 1699.8,1213.9 1703.3,1207.9 1705.9,1219.3 1709,1220.4 1714.5,1192 1717.7,1203.8 1720.9,1216.7 1724.8,1202.3 1728.2,1198.4 1730.1,1213.6 1732.5,1219.1 1734.6,1230.5 1737.6,1223.1 1741,1205.8 1744,1209 1748,1192.2 1751.1,1192 1753.9,1204.1 1756.4,1220.1 1759.3,1228.6 1762.1,1204.8 1763.9,1254.3 1771.2,1181.9 1773.3,1206.4 1776,1218.6 1778.6,1234.1 1781.6,1225.2 1784.1,1226.8 1789.6,1195.7 1792,1207.4 1794.1,1224.4 1796.3,1239.2 1798.7,1249.7 1802.4,1230.5 1806,1246 1812.5,1214 1815.2,1216.3 1817.7,1224.2 1820.7,1222.2 1824.1,1222.7 1826.9,1232.8 1829.9,1241.5"/>
<polyline class="t" stroke="#0000ff" style="stroke-width:6px" points="650,327.9 696.2,1027.5"/>
<polyline class="t" stroke="#ff00ff" points="747.1,275.8 782,891.6 785.6,955.7 787.5,974 790.2,981.3 793.9,947.4 796.6,955.9 800,979.8 803,994.1 805.4,979.7 807.6,961.2 810.7,982 813.1,986.8 814.9,981.4 816.8,975.8 820.4,985 822.9,982.9 825.4,980.5 827.8,974.9 830,981.4 832.3,990.5 834.4,982 836.8,981.4 838.8,970.3 841.9,979.2 844.9,982.7 847.9,985.9 850.6,975.7 853.4,971.2 858,994.1 859.8,968.5 862.5,983.2 865.3,1002.4 867.6,978.1 869.5,942.9 873.2,966.5 876.4,977.7 880,999.6 882.5,985.2 885.5,983.9 888.2,975.8 891,991.4 893.6,986.9 895.8,972.3 898.5,970.7 901,962.1 903.7,973.3 906.5,990.5 908.8,989.3 911.3,998.3 913.8,1006 916.1,996.1 918.4,986.8 920.8,986.2 923.4,994.3 925.8,994.1 928.2,999.5 930.7,1005.7 933.1,1007.9 935.2,998.9 937.2,990.2 939.3,979.1 941.3,968.5 944.1,1008.8 946.8,968.5 949.6,987.5 952.3,1003.3 954.7,985.6 957.2,968.3 959.6,951.1 962.4,970.4 965,986.3 967.9,1012.5 970.3,1003.8 972.5,982.2 977,1015.2 979,998.7 981.2,993.8 983.3,986.7 985.3,970.3 988.5,971 991.7,970.3 994.4,988.3 997.2,1007 1000.3,1005.1 1003.6,1007.9 1006.1,1017.8 1008.5,1018 1010.9,1024.4 1012.7,1006 1014.6,988.6 1017.4,992.1 1020.1,990.5 1022.9,999.1 1025.5,995.3 1028.3,998.6 1031.1,1005.1 1033.7,993.7 1036.6,991.4 1039.7,1002.9 1043,1018.9 1045.4,1006 1047.8,995.8 1050.3,985 1053.2,989.6 1056.3,1007.7 1059.2,1014.4 1062.2,1023.4 1064.3,1014.5 1066.6,1015.4 1068.6,1001.5 1071.7,1008.8 1075,1027.1 1077.8,1017.6 1080.5,1001.8 1083.3,988.6 1085.4,994.2 1087.8,1016.1 1090.6,1004 1093.3,985 1096.4,999.7 1099.4,1003.5 1102.5,1022.5 1105.3,1023.1 1108,1016.4 1110.7,1010.6 1113.5,1019.5 1116.2,1032.6 1118.6,1020.7 1121.1,1010 1123.6,1002.4 1126.3,1008.8 1129,1012.6 1131.8,1026.2 1134.5,1013.3 1137.3,1008.8 1140.5,1017.8 1143.7,1031.7 1146.5,1026.9 1149.2,1019.4 1151.9,1008.8 1154.7,1027.8 1157.4,1030.8 1159.9,1020 1162.5,1022.7 1164.9,1003.5 1167.4,999.3 1169.9,1001.4 1172.5,1023.4 1175,1031.7 1177.5,1038.6 1180.2,1032.4 1183,1022.2 1185.2,1022.8 1187.5,1030.4 1190.3,1027.6 1193,1017.6 1195.5,1026.1 1197.9,1035.7 1200.4,1041.4 1203.1,1033.1 1205.8,1017.2 1208.6,1017.3 1211.4,1003.8 1214.1,1031.3 1216.8,1023.7 1219.6,1016.7 1223.7,1027.2 1227.9,1036.5 1232,1057 1236.1,1063.4 1238.4,1042.2 1240.7,1030.4 1243,1039.1 1245.2,1051.5 1247.5,1041.4 1249.8,1038.6 1252.3,1041.1 1254.8,1049.6 1257.4,1049.6 1259.9,1049.6 1262.6,1035.7 1265.4,1028.6 1268.1,1034.1 1270.9,1040.2 1273.7,1038.2 1276.4,1051.5 1278.7,1025.4 1281,1015.8 1283.2,1033.8 1285.5,1051.5 1287.9,1034.2 1290.1,1033.2 1293.3,1042.8 1296.5,1042.3 1299.5,1045.2 1302.6,1036.2 1305.7,1038.6 1308.4,1047.1 1311.2,1053.3 1313.5,1038.5 1315.8,1028.6 1319,1038.8 1322.2,1053.3 1325.8,1012.1 1328.6,1031.8 1331.4,1047.7 1334.1,1069.8 1336.8,1052.2 1339.6,1035.9 1342,1048.8 1344.6,1047.8 1347.1,1054.4 1349.6,1061.5 1352.2,1050.1 1354.5,1057.8 1357,1048.7 1359.7,1036.3 1362.5,1024 1365,1037.7 1367.5,1048.4 1370.1,1052.7 1372.5,1071.6 1376.2,1061.8 1379.8,1057.1 1383.5,1046.3 1387.2,1038.6 1390.4,1055.1 1393.6,1078 1396.6,1072.8 1399.7,1060.2 1402.7,1049.6 1405.3,1051 1407.7,1061.9 1410.1,1073.4 1413.3,1068.8 1416.4,1065.9 1419.7,1059.7 1422.9,1054.2 1425.2,1071.5 1427.9,1071.6 1430.2,1086.3 1433.6,1069 1436.9,1054 1440.3,1038.6 1443,1069.8 1447.6,1044.1 1450,1058.4 1452.6,1064.6 1455.2,1068.1 1457.7,1078.9 1460.5,1071.9 1463.2,1067 1466.2,1079.2 1469.3,1085 1472.3,1097.3 1475.2,1079.5 1477.8,1069.8 1480.5,1080.9 1483.3,1086.3 1486,1084.2 1488.7,1081.3 1491.4,1078.1 1494.3,1068.9 1496.2,1097.3 1499.6,1089 1502.9,1085.3 1506.2,1082.6 1508.7,1092.8 1511,1110.8 1513.6,1117.4 1516.6,1103.6 1520,1080.8 1523.6,1093.6 1527.3,1081.5 1531,1068.9 1533.2,1093.1 1535.5,1113.7 1539.7,1094 1543.8,1075.3 1546,1097.5 1548.4,1113.7 1550.1,1116.3 1552.9,1109.8 1555.8,1102.3 1558.3,1105.3 1561.3,1094.4 1564,1089.9 1566.6,1092.5 1569.6,1100.7 1572.8,1105.6 1575.7,1118.1 1581.2,1083.3 1583.9,1095 1586.7,1103.4 1589.6,1088.1 1592.2,1080.5 1594.9,1097.2 1597.6,1112.6 1600.4,1125.4 1601.8,1125.2 1607.3,1081.2 1609.5,1097.8 1612,1105.7 1614.2,1121.3 1616.5,1136.2 1620.2,1120.1 1623.6,1110.6 1627.5,1090.4 1630.2,1098.5 1633,1107.8 1636.6,1086.7 1638.8,1105.4 1641.8,1105.4 1644,1124.2 1648,1112 1652.2,1098.6 1655,1108.2 1657.7,1119.8 1660.4,1129.7 1665.9,1091.3 1668.8,1108.2 1672.3,1111.4 1675,1114.3 1677.8,1110.9 1680.6,1110.5 1683.3,1112 1685.3,1131.2 1687.9,1134.3 1690.8,1130.3 1694,1120.5 1697.1,1113.3 1699.8,1138 1702.3,1146.7 1705,1149.7 1708,1148.7 1710.8,1149.9 1714.9,1132.7 1719,1115.1 1721.1,1124.4 1723.6,1123.8 1725.5,1138 1731,1102.3 1733.7,1119.5 1736.4,1135.2 1740.1,1113.3 1742.7,1116.7 1745.5,1116.4 1748,1121 1750.2,1133.4 1752.6,1134.7 1755.7,1124.2 1757.9,1147.9 1760.3,1168.2 1765.1,1136.3 1769.4,1114.2 1772.3,1129.8 1775.8,1133.4 1780.4,1122.4 1782.7,1131 1785.1,1137.2 1787.6,1142 1790.5,1140.7 1793.9,1139.8 1797.8,1128.4 1801.5,1123.3 1804.1,1140.3 1806,1168.2 1809.6,1153.6 1812.4,1152.2 1815.2,1152.7 1818.9,1136.2 1821.1,1152.4 1823.4,1168.2 1827,1155.7 1830.8,1138.6 1834.4,1126.1 1837.8,1125.7 1840.9,1128.2 1844.5,1123.3 1847.1,1129.6 1849,1147.9 1851.9,1150.4 1854.6,1155.4 1857.9,1144.4 1861,1136.2 1861.9,1161.8 1866.5,1136.2 1868.9,1148.8 1871.1,1164.5 1874.7,1153.6 1877.5,1171.9 1882,1153.2 1885.7,1148.1 1888.3,1157.8 1891.8,1153.4 1894.8,1155.4 1897.6,1161.8"/>
<polyline class="t" stroke="#ff00ff" style="stroke-width:6px" points="747.1,275.8 782,891.6"/>
<polyline class="t" stroke="#00ffff" points="838.7,228.2 869.9,854.9 871.7,882.4 874.5,898.9 879,920.9 881.8,899.8 884.8,907.1 888,920.9 891,927.3 893.7,920.5 896.7,922.5 899.2,909.9 901.5,904.4 904.2,910.2 906.5,902.6 909.6,911.4 912.6,920.8 915.7,929.1 919,924.8 921.8,906.1 925.4,908.9 928.5,898.9 930.9,906.5 933.3,913.4 935.8,927.3 938.6,921 941,899.5 943.8,894.2 946.4,882.4 949.6,926.4 951.7,914.8 954.2,915 956.5,907.9 958.7,896.2 961.7,906.3 964.8,924.1 967.9,941 970.1,927.2 972.5,914.5 974.7,918.8 977,928.2 979.4,927.9 982,935.5 984.4,933.7 987.3,934.6 990,926.5 992.6,912.6 995.5,932.2 998.1,937.4 1000.4,940.1 1002.7,940 1005,939.5 1007.3,937.4 1010,931.4 1012.7,924.3 1015.5,919 1018.3,911.2 1021,901.2 1023.7,890.7 1027.1,908.4 1030.5,930.8 1033.8,944.7 1036.6,943.5 1039.3,936.4 1044.6,933.8 1049.9,934.2 1055.1,931.2 1060.4,926.4 1063.4,938.4 1066.4,944.2 1069.5,961.2 1071.8,953.7 1074.1,950.2 1076.4,945 1078.7,936.4 1081.1,938.7 1083.5,936.5 1086,941.9 1088.9,958.6 1091.5,959.3 1093.8,941.6 1096.1,928.2 1098.4,948.8 1100.7,971.2 1102.4,946.3 1104.3,928.2 1106.8,942 1109.1,938.5 1111.6,955.7 1114.8,943.8 1118,940.4 1121.2,931.7 1124.5,924.5 1127.2,934.8 1130,939.2 1132.7,928.9 1135.5,919 1138.2,925.1 1140.9,926.2 1143.7,934.1 1146.4,941 1149.2,940.5 1151.9,939.2 1155.1,944.7 1158.4,955.7 1161.5,934.9 1164.7,918.7 1167.9,932.9 1171.1,948.9 1173.5,946.9 1175.9,928.2 1178.4,924.2 1180.7,946.4 1183,959 1186,954.9 1189.1,942.9 1192.1,934.2 1194.9,938.6 1197.6,947.1 1200.8,933.1 1204,930.6 1206.8,944.8 1209.5,939.2 1212.3,952.6 1215.5,945.3 1218.7,947.1 1221.1,957.2 1223.6,964.4 1226,971.8 1228.4,960.4 1230.9,946.8 1233.3,930.6 1236.1,947.7 1238.8,960.7 1241.6,965.4 1244.3,968.3 1247.1,968.4 1249.8,967.2 1252.6,973.6 1255,972.5 1257.4,971.3 1259.9,958.1 1262.3,955.9 1264.8,956.9 1267.2,953.5 1269.7,956.6 1272.1,964.3 1274.5,967.2 1278.2,969.2 1281.8,963.6 1285.5,954.3 1289.2,954.4 1292.3,960 1295.3,971.8 1298.4,974.5 1301.1,965.5 1303.8,969.5 1306.6,958.1 1308.9,969.4 1311.2,976.4 1313.9,959.6 1316.7,944.3 1319.8,966 1323.1,976.4 1325.3,968 1327.7,949.8 1330.9,956.4 1334.1,963.4 1337.3,970.8 1340.5,976.4 1342.7,965 1345.1,948.9 1348,965.2 1351,975.5 1354.1,975.9 1357,995.6 1360.6,964.5 1363.3,979.9 1366.1,990.1 1369.4,974.3 1372.5,970.9 1374.8,979.7 1377.1,983.7 1380.4,959.3 1383.5,946.2 1386.6,953.7 1389.5,969.5 1392.4,986.6 1395.4,996.5 1398.1,994.4 1400.9,981 1403.7,982.9 1406.4,992.9 1409.3,992 1412.3,985.8 1415.4,968 1418.3,968.1 1421.2,975.2 1423.8,994.3 1426.6,1007.5 1429.3,995.4 1432,984.1 1434.8,968.1 1438.7,978.6 1442.6,994 1446.4,1010.1 1450.4,1015.8 1453,1012.7 1455.9,1002.4 1458.5,1003.8 1461.4,991 1464.3,993 1467.5,986.2 1470.5,984.6 1473,995.9 1475.1,1021.2 1478.3,1005.9 1481.5,991.9 1483.9,997.6 1486.6,995.7 1488.8,1009.3 1491.8,1009.5 1494.9,1003.8 1498,996.5 1500.8,1000 1503.6,1006.1 1506.2,1017.6 1510.6,1007.5 1514.7,1009.3 1519.3,989.8 1523.6,984.6 1526,993.7 1528.2,1008.4 1531,1016.8 1533.8,1022.8 1536.4,1034.1 1540.3,1016.8 1543.8,1011.2 1545.5,1013.7 1548.7,1007.8 1551.8,1006.2 1554.9,1004.2 1558.3,990.8 1560.6,994.7 1562.9,999 1565.2,1014.6 1567.7,1026.4 1570.2,1036.6 1573.7,1031.3 1577.6,1015.4 1581.3,1003.3 1584.9,996.3 1587.5,999.7 1589.7,1011.5 1592.6,1008.4 1594.9,1017.4 1597.7,1009 1600.1,1011.6 1603.2,996.3 1605.3,1009.9 1607,1036.6 1609.2,1049.2 1611.4,1060.4 1615.5,1038.7 1619.5,1022.9 1623.3,1008.2 1625.5,1020.1 1627.9,1026.5 1631,1017.9 1634.3,1001.8 1637.1,1011.8 1639.8,1024.7 1642.3,1027.6 1645.4,1014.4 1648.1,1011.9 1650.2,1029.3 1652.5,1041.2 1654.5,1060.4 1657.6,1053.2 1660.9,1044.8 1664.3,1039.3 1668.2,1024.7 1671,1020.5 1673.6,1019.5 1676.4,1014.6 1679.2,1030.2 1682.2,1038.8 1685.2,1047.7 1688.4,1053.1 1693.8,1024.7 1696.6,1035.5 1699.3,1046.7 1702.2,1038.9 1704.8,1037.6 1707.3,1038 1710.3,1028.4 1713,1035.5 1715.8,1039.3 1719.6,1026.4 1723.2,1018.3 1726.4,1025.4 1728.9,1045.6 1732.1,1052.1 1735.1,1065 1738.3,1058.1 1741.4,1056.2 1745.1,1039.3 1747.6,1050.3 1750.6,1050.3 1753.7,1041.7 1757,1028.4 1759.1,1045.8 1761.2,1060.6 1763.4,1074.1 1768.9,1045.8 1771.6,1052.4 1774.4,1054 1777.6,1051.8 1780.3,1056.2 1783.6,1052.2 1786.9,1051.6 1791,1035.4 1794.6,1030.2 1796.3,1044.4 1798.4,1050.1 1800.1,1065 1802.6,1063 1805.6,1054 1808.9,1054.6 1811.4,1071.4 1814.7,1072.3 1817.5,1071.9 1821,1058.4 1823.9,1055.8 1827.4,1043.1 1829.8,1048.8 1833,1040.3 1834.3,1056.1 1834.9,1085.1 1838.4,1076.3 1841.3,1077.8 1845.6,1060.7 1849.5,1050.3 1851.4,1080.5 1854.3,1072 1856.9,1070 1860.5,1052.2 1863.5,1068.4 1867.2,1074.8 1871,1078.9 1874.2,1090.6 1878.3,1069.1 1882.5,1045.8 1884.6,1063.7 1887.1,1076 1890.1,1067.1 1892.7,1066 1896.2,1050.3 1898.2,1063.4 1899.9,1079.6 1905.4,1049.4 1908.3,1064.3 1912.2,1065.6 1915,1081.1 1918.2,1092.5 1924.6,1054 1927.1,1070.5 1930.1,1080.5 1933,1080.1 1935.8,1080.8 1939.3,1072.3 1940.4,1081.8 1943.8,1071 1947.1,1061.6 1948.5,1077.4 1950.5,1084.5 1953.2,1081.6 1955.9,1077.8 1958.3,1082.3 1959.9,1096.6"/>
<polyline class="t" stroke="#00ffff" style="stroke-width:6px" points="838.7,228.2 869.9,854.9"/>
<polyline class="t" stroke="#800000" points="925.9,180.5 953.2,836.6 955.6,861.4 961.5,847.6 965.1,862.3 967,852.7 968.8,837.5 971.5,831.5 974.3,831.6 977,828.4 979.7,849.1 982.5,873.3 984.5,861.3 986.6,857.9 988.6,848 990.8,846.7 993.9,848.6 997.1,851.4 1000.5,866.6 1003.6,867.8 1005.8,863.3 1008,857.5 1010,844.9 1012.7,855.9 1015.5,871.4 1017.6,864.8 1019.7,852.6 1021.9,848.5 1024.3,851.9 1026.8,857.2 1029.2,862.3 1031.6,850.6 1034.2,852.1 1036.8,850.7 1039.3,846.7 1043,873.3 1045.5,872.8 1047.9,859.9 1050.5,856.4 1053,855.9 1055.6,870.9 1057.9,877.8 1060.4,887.9 1062.6,873.7 1064.9,861.4 1067.3,876.1 1069.5,877.8 1072.3,864.3 1075,848.5 1077.4,854 1080,876.9 1082.3,881.5 1084.8,878 1087.2,874.3 1089.7,876.9 1091.8,873.3 1094,866.5 1096.1,858.6 1098.4,873.3 1100.7,889.7 1103.4,874.9 1106.2,864.1 1107.1,887.9 1109.6,879.5 1112.2,880.2 1114.7,870.4 1117.1,860.4 1119.9,867.4 1122.7,876.4 1125.3,877.9 1128.1,889.7 1130.6,881.6 1133,872.3 1135.5,861.4 1137.7,870 1140,893.4 1141.9,876.4 1143.7,858.6 1146.3,872.4 1148.7,878.3 1151.3,889.1 1153.8,898 1156.5,882.8 1159.3,873.3 1162,882.3 1164.7,894.9 1168.3,864.7 1170.8,875.2 1173.4,884.5 1175.9,894.3 1178.4,901.3 1180.8,882.5 1183.2,866.6 1185.7,861 1189.4,895.8 1191.7,882.3 1194,868.3 1196.7,875.2 1199.5,886.6 1203.1,864.7 1205.9,856.8 1208.6,851.8 1211.4,868.6 1214.1,883.3 1216.8,895.8 1219.1,892.2 1221.4,884.8 1224.2,900.6 1226.9,901.3 1229.7,886.5 1232.4,865.6 1235.2,877.5 1237.9,893 1240.7,885.2 1243.4,884.8 1247.1,889.4 1250.3,866.9 1253.5,842.7 1255.3,891.2 1257.6,884.9 1259.9,875.6 1262.6,879.2 1265.4,880 1268.1,894 1271.3,889.9 1274.5,878.4 1277.7,894.8 1281,904.9 1284.4,900.3 1287.8,889.9 1291.2,889.2 1294.7,879.3 1298.4,908.6 1301.4,899.4 1304.4,896.9 1307.5,886.6 1309.7,894.5 1311.8,908.1 1313.9,916.8 1316.3,903.1 1318.8,882.5 1321.2,870.1 1324,885.3 1326.7,893.9 1329.5,898.1 1332.2,911.4 1335,894.9 1337.3,897.5 1339.6,905.5 1341.8,919.9 1344.1,917.8 1346.6,899.6 1349,885.9 1351.5,872 1354.4,886.7 1357.3,906.4 1360.4,908.5 1363.4,925.1 1366.9,906.4 1370.2,899.8 1373.7,884.7 1377.1,878.4 1379.8,888.9 1382.6,893.2 1385.3,904.4 1388.1,909.5 1390.8,905.4 1393.6,893.6 1396.3,887.2 1399.1,874.7 1402.7,892.1 1406.4,883.9 1408.2,918.7 1410.6,915.9 1413.1,910.2 1415.6,901.3 1418.3,910.7 1421.1,916.8 1423.8,913.9 1426.6,908.6 1429.6,909.9 1432.6,915.8 1435.7,914.1 1439.4,906.8 1441.5,913.1 1443.5,929.4 1445.8,929.7 1449,915.7 1452.2,902.2 1454,917.5 1455.9,933.3 1459.5,908.6 1461.6,933.1 1464.1,941.6 1467.5,936.1 1471.1,923.4 1474.4,919.2 1477.8,914.1 1481.4,904.2 1485.2,890.3 1486.9,918.2 1488.8,941.6 1492.1,925.3 1495.2,911.4 1497.4,923.3 1499.6,933.1 1501.6,948.9 1504.6,942.2 1507.7,932.9 1510.6,928.7 1513.6,924.2 1515.8,932.3 1518.1,934.2 1520.5,936.6 1523,932.7 1525.5,928.8 1528.3,931.4 1530.9,940.8 1533.7,941.6 1537.2,923.6 1540.2,919.2 1543.8,898.5 1545.6,934.1 1547.4,967.2 1550.5,958.9 1553.8,941.6 1557,930.1 1560.1,918.5 1562.6,934.4 1564.9,954.1 1567.5,964.2 1570.6,953.2 1573.9,934.9 1575.6,949.6 1577.5,958.8 1580.4,934.6 1583,918.5 1585.2,938.5 1587.6,953.3 1590.4,943 1593.1,936.8 1595.4,947.1 1597.3,968.3 1599.5,978.9 1604.1,947.8 1606.8,947.4 1609.4,948.1 1612.3,940.4 1615,953.5 1617.8,963.3 1620.6,943.2 1623,949.9 1625.2,962.4 1628.2,951.2 1631.6,932.2 1634.2,937.6 1636.7,942.7 1639.2,951.3 1641.6,959.7 1644.8,950.9 1648.1,938.6 1649.9,963.3 1653.9,932.3 1657.8,902.9 1659.3,926.8 1661,946.8 1662.7,966.1 1665.8,945.2 1668.2,940.4 1670.9,959.5 1673.7,974.3 1676.6,972 1679.8,963.3 1682.9,958.8 1686.6,946.6 1690.2,936.8 1692.8,939.8 1694.9,952.1 1697.5,955.1 1699.8,964.9 1702.4,970.1 1705.2,968.5 1707.6,977.1 1710.8,961.7 1713.5,958.2 1716.7,944.1 1718.9,959 1721.3,969.7 1724.7,961.9 1727.8,957.8 1731.4,945.9 1733.7,960.8 1736.5,967.7 1738.7,984.4 1742.1,978.5 1746,962.4 1747.5,978.3 1748.8,997.2 1752.1,978.7 1754.7,974.2 1757.9,956 1760.3,962.8 1762.2,978.6 1764.4,989.9 1767.4,988 1770.8,981.6 1773.7,971.1 1776.3,967.3 1779,960.6 1780.8,977.6 1782.7,992.6 1785.9,986.2 1789.2,978.4 1792.7,966.1 1794.5,979.4 1796.4,988.1 1799.2,978.9 1800.9,987.7 1802.8,994.5 1807.4,974.3 1810.3,981.3 1812.8,995.5 1815.6,1004.5 1818.9,988.7 1822.1,975.2 1825.2,973.2 1828.5,967.9 1830.9,973.3 1833,982.6 1835.8,975.5 1838.5,967.9 1840.7,972.7 1842.2,988.1 1844.7,994.6 1846.7,1010.2 1849.5,1011 1854.1,978.9 1855.4,1008.2 1858.7,973.4 1860,993.6 1861.4,1012.8 1867.8,967 1870,984.9 1872.4,999 1875.9,987.8 1878.8,984.4 1880.7,990.7 1882.5,997.2 1887.1,964.2 1889.6,978.1 1891.6,999 1896.2,971.6 1898.3,977.6 1899.9,989.9 1904.5,979.8 1905.9,1007.3 1908.6,1006.7 1911.6,1001.8 1914.5,997.2 1916.4,1002.7 1919.1,999.8 1921.6,1001.7 1925.1,987.8 1927.4,991.7 1930.7,995.5 1933.8,1003.6 1935.7,1005 1938.7,1003.2 1942,996.6 1945.8,983.5 1947.8,1001.2 1949.8,1019.8 1953.5,1013.4 1957,1010.2 1961.3,995.6 1962.4,1023 1964.6,1036 1970,1005 1972,1029.3 1980.1,975.4 1983,986 1985.7,998.6 1988.8,1005.6 1991.6,1017.8 1995.6,1004.5 1999.6,990.2 2003.2,988.6 2006.4,991.6 2007.6,1010.2 2010.2,1011.1 2011.8,1024.6 2015.8,1004.4 2018,1010 2020.4,1012.8 2023.2,1011.1"/>
<polyline class="t" stroke="#800000" style="stroke-width:6px" points="925.9,180.5 953.2,836.6"/>
</g>
<g id="legend">
<rect x="1392.2" y="170" width="525.4" height="646.8" fill="#fff" stroke="#000" stroke-width="5"/>
<line x1="1432.1" y1="246.8" x2="1580.9" y2="246.8" stroke="#ff0000" stroke-width="8.2" stroke-linecap="round"/>
<text class="lt" x="1620.5" y="269.4">1558 nm</text>
<line x1="1432" y1="328.9" x2="1581" y2="328.9" stroke="#00ff00" stroke-width="8.0" stroke-linecap="round"/>
<text class="lt" x="1620.5" y="351.5">1568 nm</text>
<line x1="1432.1" y1="411" x2="1580.9" y2="411" stroke="#ffff00" stroke-width="8.2" stroke-linecap="round"/>
<text class="lt" x="1620.5" y="433.6">1578 nm</text>
<line x1="1432.1" y1="493.1" x2="1580.9" y2="493.1" stroke="#0000ff" stroke-width="8.2" stroke-linecap="round"/>
<text class="lt" x="1620.5" y="515.7">1588 nm</text>
<line x1="1431.5" y1="575.2" x2="1581.5" y2="575.2" stroke="#ff00ff" stroke-width="7.0" stroke-linecap="round"/>
<text class="lt" x="1620.5" y="597.8">1598 nm</text>
<line x1="1431.5" y1="657.3" x2="1581.5" y2="657.3" stroke="#00ffff" stroke-width="7.1" stroke-linecap="round"/>
<text class="lt" x="1620.5" y="679.9">1608 nm</text>
<line x1="1431.5" y1="739.4" x2="1581.5" y2="739.4" stroke="#800000" stroke-width="7.0" stroke-linecap="round"/>
<text class="lt" x="1620.5" y="762">1618 nm</text>
</g>
<g id="labels">
<text class="tl" text-anchor="end" x="239" y="373.5">-5</text>
<text class="tl" text-anchor="end" x="254.6" y="559.3">-15</text>
<text class="tl" text-anchor="end" x="271.2" y="741">-25</text>
<text class="tl" text-anchor="end" x="286.8" y="915.1">-35</text>
<text class="tl" text-anchor="end" x="302.8" y="1085.7">-45</text>
<text class="tl" text-anchor="end" x="316.6" y="1250.7">-55</text>
<text class="tl" text-anchor="end" x="330.3" y="1410.3">-65</text>
<text class="tl" text-anchor="end" x="558.9" y="1503.8">200</text>
<text class="tl" text-anchor="end" x="795.7" y="1557.5">400</text>
<text class="tl" text-anchor="end" x="1037.4" y="1612.2">600</text>
<text class="tl" text-anchor="end" x="1291.3" y="1668.6">800</text>
<text class="tl" text-anchor="end" x="1553.6" y="1726.3">1000</text>
<text class="tl" text-anchor="end" x="1838.3" y="1620.7">1560</text>
<text class="tl" text-anchor="end" x="1913.2" y="1529">1570</text>
<text class="tl" text-anchor="end" x="1985.2" y="1443.2">1580</text>
<text class="tl" text-anchor="end" x="2054" y="1361">1590</text>
<text class="tl" text-anchor="end" x="2118.2" y="1281.8">1600</text>
<text class="tl" text-anchor="end" x="2180.9" y="1208.9">1610</text>
<text class="tl" text-anchor="end" x="2237.4" y="1138.7">1620</text>
<text class="al" transform="translate(140.9,1301.5) rotate(-94.9)">Electrical Power [dBm]</text>
<text class="al" transform="translate(621.5,1688.5) rotate(12.5)">Frequency [MHz]</text>
<text class="al" transform="translate(1952.4,1635.2) rotate(-49.9)">Wavelength [nm]</text>
</g>
</svg>
</body></html>
